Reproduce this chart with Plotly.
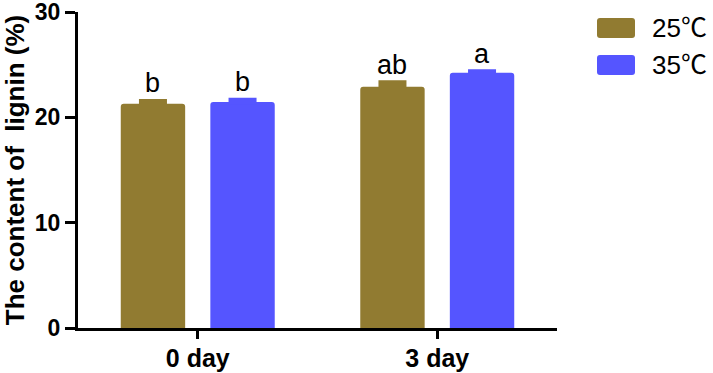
import plotly.graph_objects as go

categories = ["0 day", "3 day"]
series_names = ["25℃", "35℃"]
values_25 = [21.3, 22.9]
errors_25 = [0.23, 0.4]
values_35 = [21.45, 24.23]
errors_35 = [0.2, 0.12]
letters_25 = ["b", "ab"]
letters_35 = ["b", "a"]
y_ticks = [0, 10, 20, 30]

colors = ["#917B31", "#5555FF"]

W, H = 713, 373
L, R, T, B = 78, 156, 12, 45
pw, ph = W - L - R, H - T - B

def px_x(px):
    return (px - L) / pw

def px_y(py):
    return (H - B - py) / ph

fig = go.Figure()
for name, vals, errs, col in [
    (series_names[0], values_25, errors_25, colors[0]),
    (series_names[1], values_35, errors_35, colors[1]),
]:
    fig.add_trace(go.Bar(
        x=categories, y=vals, name=name,
        marker=dict(color=col, line=dict(width=0)),
        error_y=dict(type="data", array=errs, arrayminus=[0] * len(errs),
                     symmetric=False, color=col, thickness=4.5, width=14),
        showlegend=False,
    ))

slot = (1 - 0.252) * (pw / len(categories)) / 2
annotations = []
for vals, errs, lets, sh in [(values_25, errors_25, letters_25, -slot / 2),
                             (values_35, errors_35, letters_35, slot / 2)]:
    for c, v, e, t in zip(categories, vals, errs, lets):
        annotations.append(dict(x=c, y=v + e, xref="x", yref="y", text=t,
                                showarrow=False, xshift=sh, yshift=1,
                                yanchor="bottom",
                                font=dict(family="Arial", size=27, color="black")))

# custom legend
shapes = []
for i, (name, col) in enumerate(zip(series_names, colors)):
    y0, y1 = 18 + i * 37, 38 + i * 37
    x0, x1 = 597, 635
    r = 3
    path = (f"M{px_x(x0 + r)},{px_y(y0)} L{px_x(x1 - r)},{px_y(y0)} "
            f"Q{px_x(x1)},{px_y(y0)} {px_x(x1)},{px_y(y0 + r)} "
            f"L{px_x(x1)},{px_y(y1 - r)} Q{px_x(x1)},{px_y(y1)} {px_x(x1 - r)},{px_y(y1)} "
            f"L{px_x(x0 + r)},{px_y(y1)} Q{px_x(x0)},{px_y(y1)} {px_x(x0)},{px_y(y1 - r)} "
            f"L{px_x(x0)},{px_y(y0 + r)} Q{px_x(x0)},{px_y(y0)} {px_x(x0 + r)},{px_y(y0)} Z")
    shapes.append(dict(type="path", path=path, xref="paper", yref="paper",
                       fillcolor=col, line=dict(width=0)))
    annotations.append(dict(x=px_x(650), y=px_y((y0 + y1) / 2), xref="paper", yref="paper",
                            text=name, showarrow=False, xanchor="left", yanchor="middle",
                            font=dict(family="Arial, Noto Sans CJK SC", size=26, color="black")))

fig.update_layout(
    width=W, height=H,
    margin=dict(l=L, r=R, t=T, b=B, autoexpand=False),
    plot_bgcolor="white", paper_bgcolor="white",
    barmode="group", bargap=0.252, bargroupgap=0.281, barcornerradius=3,
    showlegend=False,
    annotations=annotations, shapes=shapes,
    xaxis=dict(showline=True, linecolor="black", linewidth=3, ticks="outside",
               ticklen=8, tickwidth=3, tickcolor="black", showgrid=False,
               range=[-0.5, 1.5], ticklabeloverflow="allow", ticklabelstandoff=-2,
               tickfont=dict(family="Arial", size=25, color="black", weight="bold")),
    yaxis=dict(showline=True, linecolor="black", linewidth=3, ticks="outside",
               ticklen=10, tickwidth=3, tickcolor="black", showgrid=False,
               range=[0, 30], tickvals=y_ticks, zeroline=False,
               ticklabeloverflow="allow",
               tickfont=dict(family="Arial", size=23, color="black", weight="bold"),
               title=dict(text="The content of  lignin (%)", standoff=10,
                          font=dict(family="Arial", size=26, color="black", weight="bold"))),
)

fig.write_html("out.html", config={"displayModeBar": False},
               post_script="document.body.style.margin='0';document.body.style.overflow='hidden';")
